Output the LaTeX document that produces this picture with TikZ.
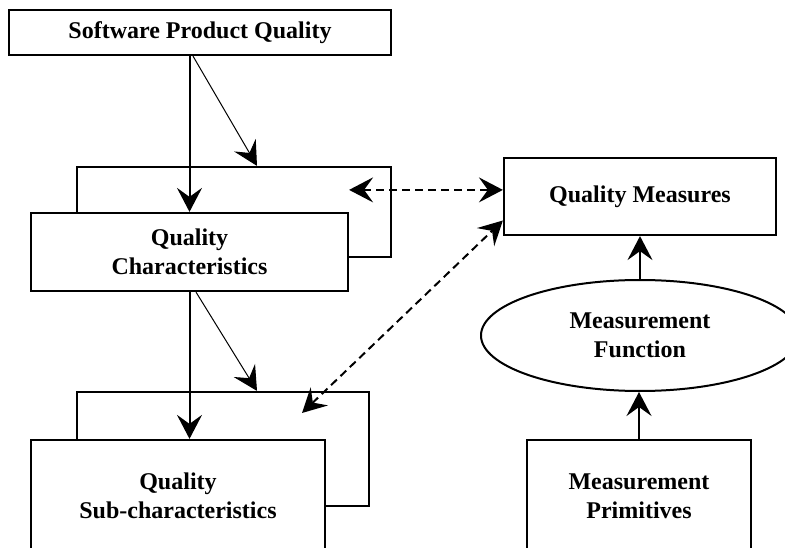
\documentclass[tikz,border=0pt]{standalone}
\usepackage{fontspec}
\setmainfont{Liberation Serif}
\usetikzlibrary{arrows.meta,shapes.geometric}
\begin{document}
\begin{tikzpicture}[x=1pt,y=-1pt,
  txt/.style={font=\bfseries\fontsize{24}{29}\selectfont,align=center},
  box/.style={txt,draw,line width=2.2pt,fill=white,inner sep=0pt},
  oval/.style={txt,ellipse,draw,line width=2pt,fill=white,inner sep=0pt},
  tip/.tip={Stealth[length=24pt,width=25pt,inset=9pt]},
  arr/.style={line width=2pt,-tip},
  thinarr/.style={line width=1pt,-tip},
  dasharr/.style={line width=2pt,dash pattern=on 8pt off 5pt,tip-tip}
]
\useasboundingbox (0,0) rectangle (785,548);

% top level
\node[box,minimum width=382pt,minimum height=45pt] (spq) at (200,32.5) {Software Product Quality};

% characteristics (stacked pair)
\node[box,minimum width=314pt,minimum height=90pt] (qcb) at (234,212) {};
\node[box,minimum width=317pt,minimum height=78pt] (qcf) at (189.5,252) {Quality\\Characteristics};

% sub-characteristics (stacked pair)
\node[box,minimum width=292pt,minimum height=114pt] (sqb) at (223,449) {};
\node[box,minimum width=294pt,minimum height=112pt] (sqf) at (178,496) {Quality\\Sub-characteristics};

% measurement chain
\node[box,minimum width=272pt,minimum height=77pt] (qm) at (640,196.5) {Quality Measures};
\node[oval,minimum width=318pt,minimum height=111pt] (mf) at (640,335.5) {Measurement\\Function};
\node[box,minimum width=224pt,minimum height=112pt] (mp) at (639,496) {Measurement\\Primitives};

% hierarchy connectors
\draw[arr] (qcf.north |- spq.south) -- (qcf.north);
\draw[thinarr] ([xshift=-7pt]spq.south) -- ([xshift=23pt]qcb.north);
\draw[arr] (qcf.south) -- (qcf.south |- sqf.north);
\draw[thinarr] ([xshift=6.5pt]qcf.south) -- ([xshift=34pt]sqb.north);

% measurement connectors
\draw[arr] (mf.north) -- (qm.south);
\draw[arr] (mp.north) -- (mp.north |- mf.south);

% dashed associations
\coordinate (cq) at ([yshift=22pt]qcf.north east);
\draw[dasharr] (cq) -- (cq -| qm.west);
\coordinate (cs) at (302,413);
\draw[dasharr] (cs) -- ([yshift=-24pt]qm.west);
\end{tikzpicture}
\end{document}
